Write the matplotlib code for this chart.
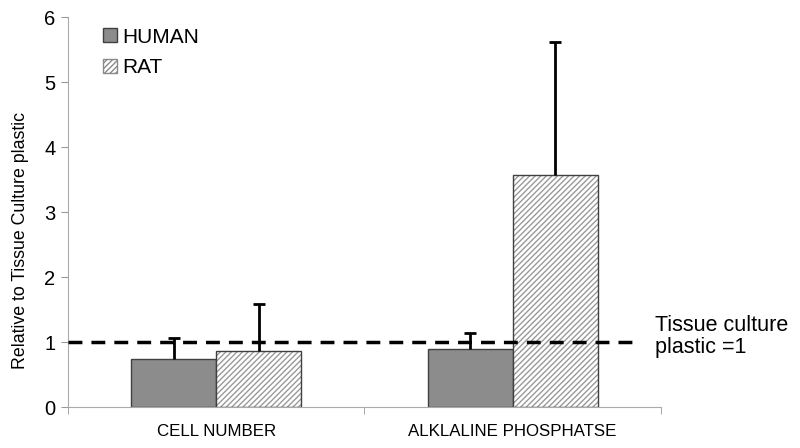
import matplotlib
matplotlib.use("Agg")
import matplotlib.pyplot as plt
import numpy as np
from matplotlib.patches import Patch

categories = ["CELL NUMBER", "ALKLALINE PHOSPHATSE"]
human = [0.74, 0.89]
human_err = [0.32, 0.25]
rat = [0.86, 3.57]
rat_err = [0.72, 2.05]
series = ["HUMAN", "RAT"]
yticks = [0, 1, 2, 3, 4, 5, 6]

plt.rcParams['font.family'] = ['Liberation Sans', 'DejaVu Sans']
plt.rcParams['hatch.linewidth'] = 1.0
fig = plt.figure(figsize=(8, 4.48), dpi=100)
ax = fig.add_axes([0.085, 0.0915, 0.741, 0.8705])

x = np.arange(len(categories)) + 0.5
w = 0.287
hum_col = '#8c8c8c'
edge = '#404040'


def upper_err(xpos, vals, errs):
    vals = np.asarray(vals)
    tops = vals + np.asarray(errs)
    ax.vlines(xpos, vals, tops, colors='black', lw=2, zorder=3)
    ax.plot(xpos, tops, ls='none', marker='_', ms=9, mew=2, color='black', zorder=3)


ax.bar(x - w/2, human, w, color=hum_col, edgecolor=edge, linewidth=1, zorder=2)
upper_err(x - w/2, human, human_err)
ax.bar(x + w/2, rat, w, color='white', edgecolor='#9a9a9a', hatch='//////', linewidth=0, zorder=2)
ax.bar(x + w/2, rat, w, fill=False, edgecolor=edge, linewidth=1, zorder=2.5)
upper_err(x + w/2, rat, rat_err)

ax.plot([0, 1.93], [1, 1], color='black', lw=2.5, ls=(0, (4, 2.6)), zorder=4, clip_on=False)
ax.text(1.98, 1.08, "Tissue culture\nplastic =1", fontsize=15.5, va='center', ha='left',
        linespacing=1.05)

ax.set_xlim(0, 2)
ax.set_ylim(0, 6)
ax.set_yticks(yticks)
ax.set_yticklabels([str(t) for t in yticks], fontsize=14.5)
ax.set_xticks(x)
ax.set_xticklabels(categories, fontsize=12.2)
ax.set_xticks([0, 1, 2], minor=True)
ax.tick_params(axis='x', which='major', length=0, pad=12)
ax.tick_params(axis='x', which='minor', length=5, color='#999999', direction='out')
ax.tick_params(axis='y', length=5, color='#999999', direction='out', pad=4)
for s in ['top', 'right']:
    ax.spines[s].set_visible(False)
for s in ['left', 'bottom']:
    ax.spines[s].set_color('#aaaaaa')
ax.set_ylabel("Relative to Tissue Culture plastic", fontsize=12.8)
ax.yaxis.set_label_coords(-0.066, 0.426)

handles = [Patch(facecolor=hum_col, edgecolor=edge, label=series[0]),
           Patch(facecolor='white', edgecolor='#8a8a8a', hatch='//////', label=series[1])]
ax.legend(handles=handles, loc='upper left', bbox_to_anchor=(0.035, 1.01), frameon=False,
          fontsize=15, handlelength=0.65, handleheight=0.65, handletextpad=0.25,
          labelspacing=0.55, borderaxespad=0.3)

fig.savefig("out.png", dpi=100)
